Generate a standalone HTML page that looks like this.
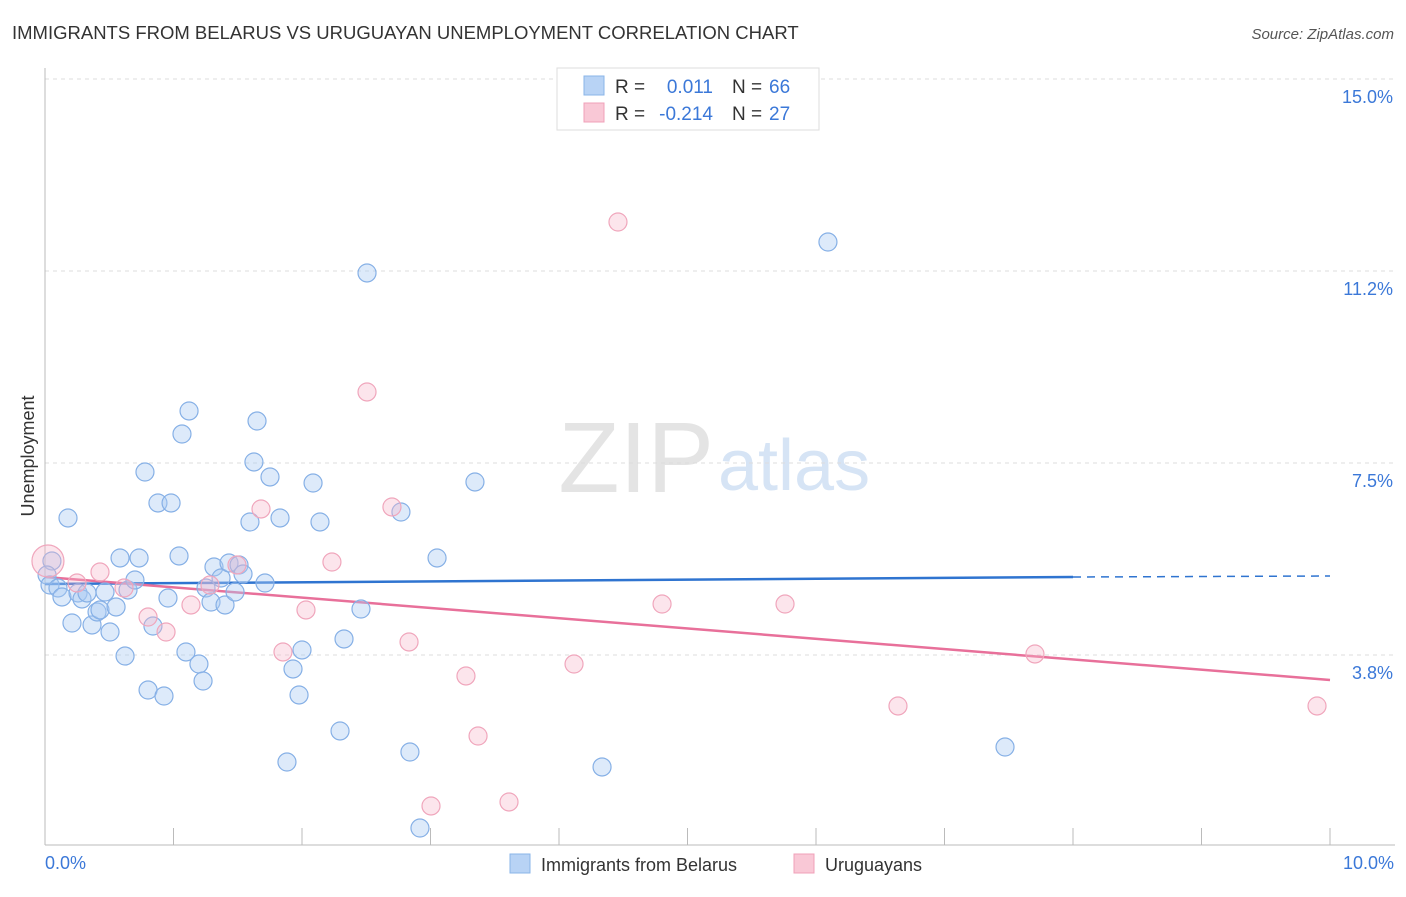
<!DOCTYPE html>
<html><head><meta charset="utf-8"><style>
body{margin:0;background:#fff;font-family:"Liberation Sans",sans-serif;}
svg text{font-family:"Liberation Sans",sans-serif;}
</style></head><body>
<svg id="chart" width="1406" height="892" viewBox="0 0 1406 892">
<text x="12" y="39" font-size="18.5" fill="#333">IMMIGRANTS FROM BELARUS VS URUGUAYAN UNEMPLOYMENT CORRELATION CHART</text>
<text x="1394" y="39" font-size="15" fill="#555" font-style="italic" text-anchor="end">Source: ZipAtlas.com</text>
<text x="714" y="492" font-size="100" fill="#e4e4e4" font-family="Liberation Serif" text-anchor="end">ZIP</text>
<text x="718" y="490" font-size="72" fill="#d6e4f5">atlas</text>
<g id="grid"></g><g id="axes"></g><g id="trend"></g><g id="pts"></g>
<text transform="translate(34,456) rotate(-90)" font-size="18" fill="#333" text-anchor="middle">Unemployment</text>
<text x="45" y="869" font-size="18" fill="#3b78d8">0.0%</text>
<text x="1394" y="869" font-size="18" fill="#3b78d8" text-anchor="end">10.0%</text>
<g>
<rect x="557" y="68" width="262" height="62" fill="#fff" stroke="#ddd"/>
<rect x="584" y="76" width="20" height="19" fill="#b8d3f5" stroke="#8ab4e8"/>
<rect x="584" y="103" width="20" height="19" fill="#f9c8d6" stroke="#f0a0b8"/>
<text x="615" y="93" font-size="19" fill="#333">R = </text><text x="713" y="93" font-size="19" fill="#3b78d8" text-anchor="end">0.011</text>
<text x="732" y="93" font-size="19" fill="#333">N = </text><text x="769" y="93" font-size="19" fill="#3b78d8">66</text>
<text x="615" y="120" font-size="19" fill="#333">R = </text><text x="713" y="120" font-size="19" fill="#3b78d8" text-anchor="end">-0.214</text>
<text x="732" y="120" font-size="19" fill="#333">N = </text><text x="769" y="120" font-size="19" fill="#3b78d8">27</text>
</g>
<g>
<rect x="510" y="854" width="20" height="19" fill="#b8d3f5" stroke="#8ab4e8"/>
<text x="541" y="871" font-size="18" fill="#333">Immigrants from Belarus</text>
<rect x="794" y="854" width="20" height="19" fill="#f9c8d6" stroke="#f0a0b8"/>
<text x="825" y="871" font-size="18" fill="#333">Uruguayans</text>
</g>
</svg>
<script>
const yTicks=[15,11.25,7.5,3.75];
const yTickLabels=["15.0%","11.2%","7.5%","3.8%"];
const xTicks=[0,1,2,3,4,5,6,7,8,9,10];
const blueX=[0.054,0.016,0.039,0.101,0.132,0.179,0.210,0.257,0.288,0.327,0.366,0.405,0.428,0.467,0.506,0.553,0.584,0.623,0.646,0.700,0.732,0.778,0.802,0.840,0.879,0.926,0.957,0.981,1.043,1.066,1.097,1.121,1.198,1.230,1.253,1.292,1.315,1.370,1.401,1.432,1.479,1.510,1.541,1.595,1.626,1.650,1.712,1.751,1.829,1.883,1.930,1.977,2.000,2.086,2.140,2.296,2.327,2.459,2.506,2.770,2.840,2.918,3.051,3.346,4.335,6.093,7.471];
const blueY=[5.586,5.312,5.117,5.059,4.883,6.426,4.375,4.961,4.844,4.961,4.336,4.590,4.629,4.980,4.199,4.688,5.645,3.730,5.020,5.215,5.645,7.324,3.066,4.316,6.719,2.949,4.863,6.719,5.684,8.066,3.809,8.516,3.574,3.242,5.059,4.785,5.469,5.254,4.727,5.547,4.980,5.508,5.332,6.348,7.520,8.320,5.156,7.227,6.426,1.660,3.477,2.969,3.848,7.109,6.348,2.266,4.063,4.648,11.211,6.543,1.855,0.371,5.645,7.129,1.563,11.816,1.953];
const pinkX=[0.023,0.249,0.428,0.615,0.802,0.942,1.136,1.284,1.494,1.681,1.852,2.031,2.233,2.506,2.700,2.833,3.004,3.276,3.370,3.611,4.117,4.459,4.802,5.759,6.638,7.704,9.899];
const pinkY=[5.586,5.156,5.371,5.059,4.492,4.199,4.727,5.117,5.508,6.602,3.809,4.629,5.566,8.887,6.641,4.004,0.801,3.340,2.168,0.879,3.574,12.207,4.746,4.746,2.754,3.770,2.754];
const blueTrend=[5.137,5.273,5.293]; // at x=0, 8, 10
const pinkTrend=[5.273,3.262]; // at x=0, 10
const NS="http://www.w3.org/2000/svg";
const X=v=>45+v*128.5, Y=v=>79+(15-v)*51.2;
function mk(p,t,a){const e=document.createElementNS(NS,t);for(const k in a)e.setAttribute(k,a[k]);p.appendChild(e);return e;}
const grid=document.getElementById('grid'),axes=document.getElementById('axes'),tr=document.getElementById('trend'),pts=document.getElementById('pts');
yTicks.forEach((t,i)=>{
 const l=mk(grid,'line',{x1:45,x2:1395,y1:Y(t),y2:Y(t),stroke:'#ddd','stroke-dasharray':'4,4'});
 
 
 const tx=mk(grid,'text',{x:1393,y:Y(t)+24,'font-size':18,fill:'#3b78d8','text-anchor':'end'});tx.textContent=yTickLabels[i];
 
 
});
const ax=mk(axes,'line',{x1:45,x2:45,y1:68,y2:845,stroke:'#bbb'});


const bx=mk(axes,'line',{x1:45,x2:1395,y1:845,y2:845,stroke:'#bbb'});


xTicks.forEach(t=>{const l=mk(axes,'line',{x1:X(t),x2:X(t),y1:828,y2:845,stroke:'#bbb'});
 
 });
function dots(xs,ys,fill,stroke,name){xs.forEach((x,i)=>{const r=(name==='uruguayans-point'&&i===0)?16:9;
 const c=mk(pts,'circle',{cx:X(x),cy:Y(ys[i]),r:r,fill:fill,stroke:stroke,'stroke-width':1.2});
 
 });}
dots(blueX,blueY,'rgba(170,202,242,0.4)','#86b0e6','belarus-point');
dots(pinkX,pinkY,'rgba(247,180,200,0.35)','#f0a6bc','uruguayans-point');
const b1=mk(tr,'line',{x1:X(0),y1:Y(blueTrend[0]),x2:X(8),y2:Y(blueTrend[1]),stroke:'#2f74d0','stroke-width':2.5});


const b2=mk(tr,'line',{x1:X(8),y1:Y(blueTrend[1]),x2:X(10),y2:Y(blueTrend[2]),stroke:'#2f74d0','stroke-width':1.5,'stroke-dasharray':'8,6'});


const p1=mk(tr,'line',{x1:X(0),y1:Y(pinkTrend[0]),x2:X(10),y2:Y(pinkTrend[1]),stroke:'#e8709a','stroke-width':2.5});


</script>
</body></html>
